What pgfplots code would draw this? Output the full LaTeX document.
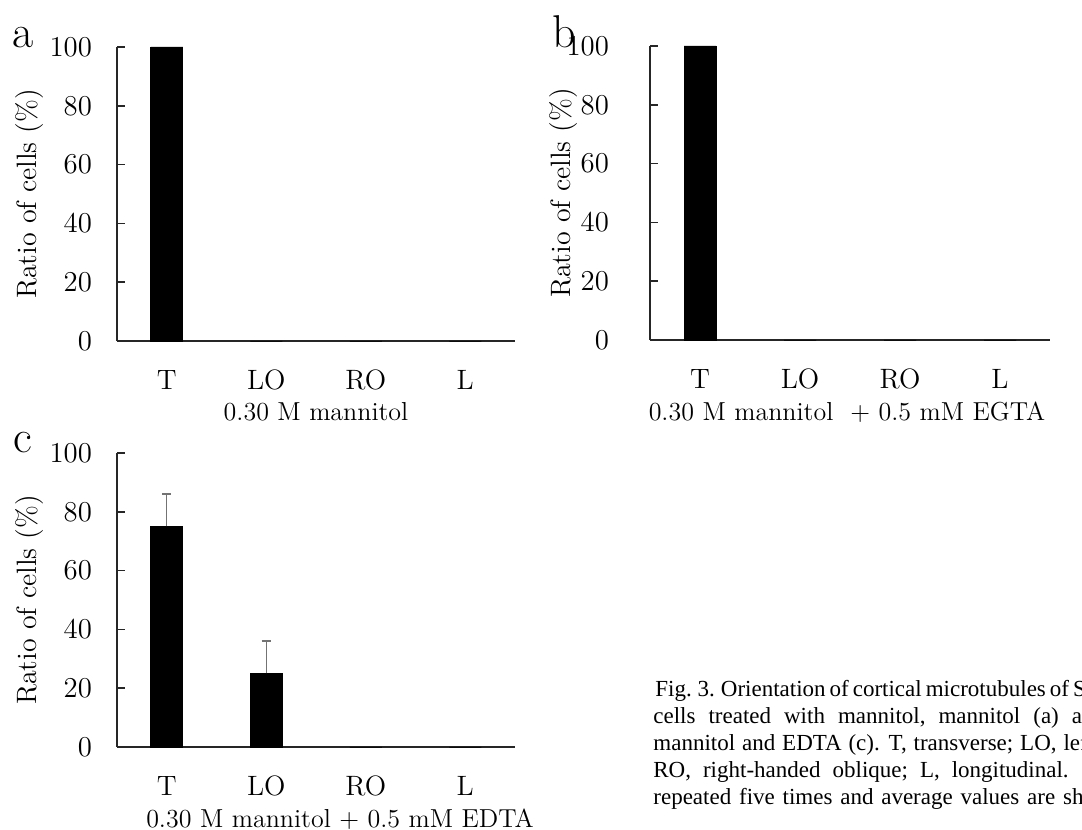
\documentclass[border=0pt]{standalone}
\usepackage{pgfplots}
\pgfplotsset{compat=1.18}
\usepackage{fontspec}
\newfontfamily\capfont{Liberation Serif}

% one pixel of the reference = 0.5pt
\pgfplotsset{
  panel/.style={
    scale only axis,
    width=199pt, height=147pt,
    xmin=-0.5, xmax=3.5, ymin=0, ymax=100,
    axis x line*=bottom, axis y line*=left,
    axis line style={-, black!85, line width=0.8pt},
    xtick={0,1,2,3}, xticklabels={T,LO,RO,L},
    ytick={0,20,40,60,80,100},
    tick align=inside,
    major tick length=4pt,
    x tick style={draw=none},
    y tick style={black!85, line width=0.8pt},
    tick label style={font=\fontsize{14}{16}\selectfont},
    yticklabel style={xshift=-9pt},
    xticklabel style={yshift=-7pt},
    ylabel={Ratio of cells (\%)},
    ylabel style={font=\fontsize{14}{16}\selectfont, anchor=center},
    ybar, bar width=16pt,
    clip=false,
  },
  blackbar/.style={fill=black, draw=black},
}

\begin{document}
\begin{tikzpicture}[x=0.5pt, y=0.5pt]

% panel a
\begin{axis}[panel, at={(58.5pt,244.5pt)}, anchor=south west,
  ylabel style={at={(axis description cs:-0.22,0.5)}}]
\addplot[blackbar] coordinates {(0,100) (1,0) (2,0) (3,0)};
\end{axis}

% panel b
\begin{axis}[panel, at={(325pt,245pt)}, anchor=south west, width=200pt,
  yticklabel style={xshift=-8pt},
  ylabel style={at={(axis description cs:-0.215,0.5)}}]
\addplot[blackbar] coordinates {(0,100) (1,0) (2,0) (3,0)};
\end{axis}

% panel c
\begin{axis}[panel, at={(58.5pt,41.5pt)}, anchor=south west,
  ylabel style={at={(axis description cs:-0.22,0.5)}}]
\addplot[blackbar,
  error bars/.cd, y dir=plus, y explicit,
  error bar style={black!55, line width=0.7pt},
  error mark options={rotate=90, black!55, line width=0.7pt, mark size=2.3pt}]
  coordinates {(0,75) +- (0,11) (1,25) +- (0,11) (2,0) (3,0)};
\end{axis}

% panel letters
\node[anchor=base, font=\fontsize{23}{26}\selectfont] at (23,782) {a};
\node[anchor=base, font=\fontsize{23}{26}\selectfont] at (564,782) {b};
\node[anchor=base, font=\fontsize{23}{26}\selectfont] at (23,377) {c};

% condition labels
\begin{scope}[every node/.style={anchor=base, font=\fontsize{13}{16}\selectfont}]
\node at (316,409) {0.30 M mannitol};
\node at (847,409) {0.30 M mannitol~~+ 0.5 mM EGTA};
\node at (340,2) {0.30 M mannitol + 0.5 mM EDTA};
\end{scope}

% figure caption (cut off at the right edge in the reference)
\begin{scope}[every node/.style={anchor=base west, inner sep=0pt, font=\capfont\fontsize{11.5}{13}\selectfont}]
\node at (655,133) {\spaceskip=2pt Fig. 3. Orientation of cortical microtubules of Spirogyra};
\node at (653,106) {\spaceskip=6.5pt cells treated with mannitol, mannitol (a) and mannitol and};
\node at (653,79)  {\spaceskip=3.45pt mannitol and EDTA (c). T, transverse; LO, left-handed oblique;};
\node at (653,52)  {\spaceskip=6pt RO, right-handed oblique; L, longitudinal. Experiments were};
\node at (653,25)  {\spaceskip=3.9pt repeated five times and average values are shown.};
\end{scope}

\pgfresetboundingbox
\useasboundingbox (0,0) rectangle (1082,830);
\end{tikzpicture}
\end{document}
